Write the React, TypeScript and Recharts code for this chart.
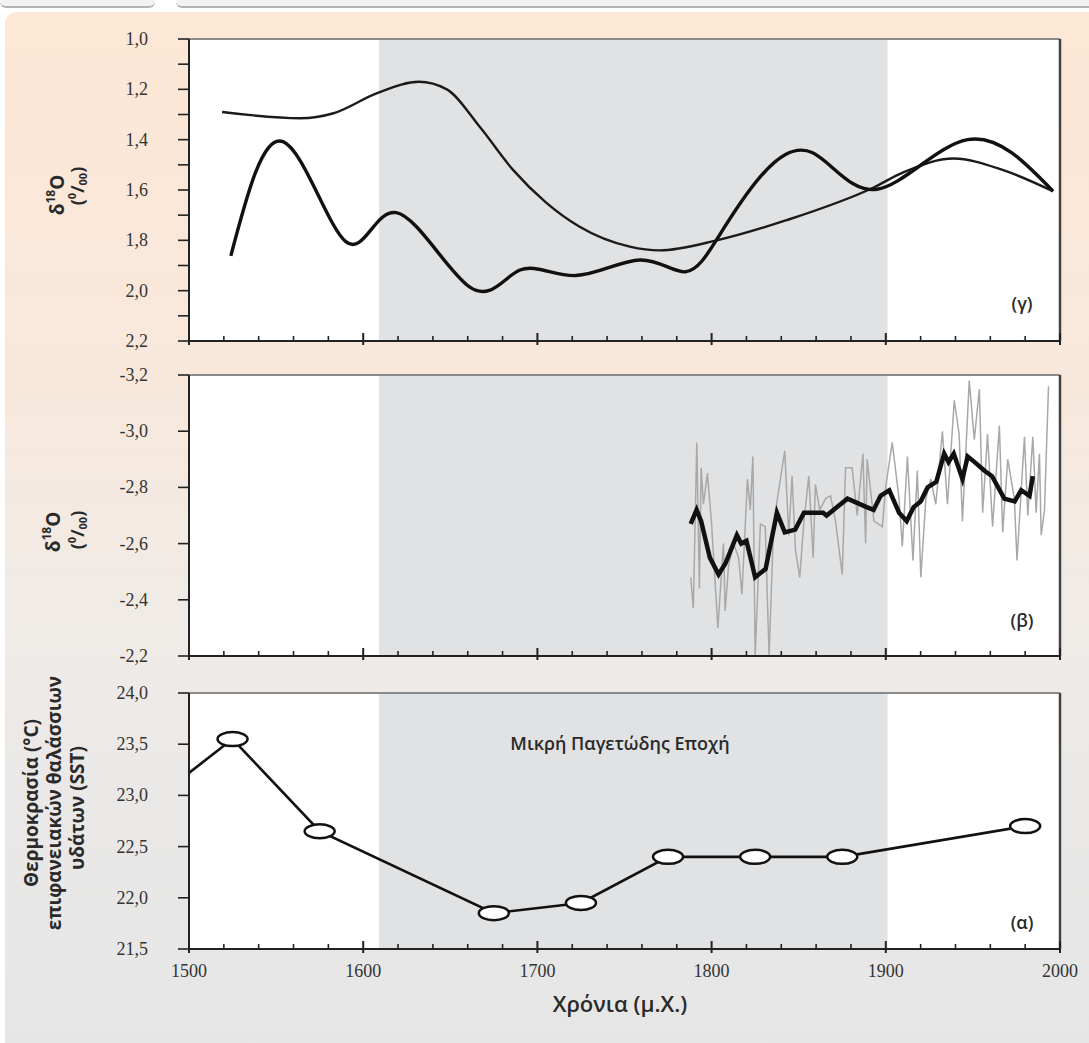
import React from 'react'
import {
  LineChart,
  Line,
  XAxis,
  YAxis,
  ReferenceArea,
  ReferenceLine,
} from 'recharts'

// x axis (years AD)
const xTicks = [
  1500, 1520, 1540, 1560, 1580, 1600, 1620, 1640, 1660, 1680, 1700, 1720, 1740, 1760, 1780,
  1800, 1820, 1840, 1860, 1880, 1900, 1920, 1940, 1960, 1980, 2000,
]
const littleIceAge = [1609, 1901]

// panel (γ): two smoothed δ18O records
const gammaTicks = [1.0, 1.1, 1.2, 1.3, 1.4, 1.5, 1.6, 1.7, 1.8, 1.9, 2.0, 2.1, 2.2]
const gammaAYears = [1519, 1564, 1583, 1608, 1632, 1648, 1667, 1686, 1705, 1724, 1753, 1770, 1803, 1843, 1893, 1910, 1939, 1967, 1996]
const gammaAValues = [1.29, 1.315, 1.295, 1.215, 1.17, 1.2, 1.35, 1.52, 1.65, 1.745, 1.825, 1.84, 1.8, 1.72, 1.59, 1.53, 1.475, 1.52, 1.605]
const gammaBYears = [1524, 1554, 1590, 1619, 1661, 1690, 1722, 1759, 1785, 1804, 1828, 1858, 1895, 1947, 1996]
const gammaBValues = [1.862, 1.408, 1.805, 1.69, 1.985, 1.918, 1.94, 1.878, 1.925, 1.785, 1.547, 1.452, 1.597, 1.4, 1.605]

// panel (β): annual δ18O (grey) and running mean (black)
const betaTicks = [-3.2, -3.0, -2.8, -2.6, -2.4, -2.2]
const betaRawYears = [
  1788, 1789.5, 1791.5, 1793, 1794, 1795.3, 1797.6, 1800, 1803.6, 1806.8, 1807.8, 1809.7, 1812.6,
  1815.5, 1817.4, 1820.6, 1822.2, 1823.7, 1825, 1828, 1830.8, 1833, 1835.6, 1839.5, 1842, 1844.3,
  1846.2, 1848.1, 1850.6, 1853, 1855.8, 1858.3, 1859.6, 1862.1, 1865.4, 1868.3, 1871.1, 1875,
  1876.9, 1880.7, 1883.6, 1886.9, 1888.4, 1889.3, 1893.2, 1898, 1899.9, 1903.7, 1907.6, 1909.5,
  1912.4, 1915.6, 1918.1, 1920.1, 1923, 1925.8, 1928.7, 1932.5, 1935.4, 1939.3, 1942.1, 1944,
  1947.9, 1950.8, 1953.7, 1955.6, 1958.4, 1961.3, 1965.2, 1967.1, 1970, 1973.8, 1975.3, 1979.6,
  1981.5, 1984.4, 1986.3, 1988.2, 1989.2, 1991.1, 1993.4,
]
const betaRawValues = [
  -2.48, -2.37, -2.96, -2.44, -2.87, -2.74, -2.85, -2.67, -2.3, -2.6, -2.36, -2.52, -2.6,
  -2.55, -2.42, -2.83, -2.72, -2.91, -2.2, -2.67, -2.66, -2.2, -2.67, -2.83, -2.93, -2.63,
  -2.84, -2.58, -2.48, -2.68, -2.84, -2.55, -2.81, -2.72, -2.76, -2.77, -2.68, -2.49,
  -2.87, -2.87, -2.7, -2.92, -2.6, -2.9, -2.68, -2.66, -2.8, -2.96, -2.76, -2.59,
  -2.91, -2.54, -2.86, -2.48, -2.76, -2.83, -2.74, -3.0, -2.74, -3.11, -2.99, -2.68,
  -3.18, -2.97, -3.15, -2.71, -2.99, -2.66, -3.02, -2.64, -2.9, -2.76, -2.54, -2.98,
  -2.7, -2.98, -2.71, -2.92, -2.63, -2.72, -3.16,
]
const betaMeanYears = [
  1788, 1791.4, 1794, 1799, 1804, 1808, 1814.5, 1817, 1820, 1825, 1831, 1837.5, 1842, 1848, 1853,
  1864, 1866, 1878, 1889, 1893, 1897, 1902, 1907.6, 1912, 1916, 1920, 1924, 1929, 1933.5, 1936,
  1939, 1944, 1947, 1951, 1956.5, 1961, 1968, 1974, 1977.7, 1982.5, 1984.4,
]
const betaMeanValues = [
  -2.67, -2.72, -2.68, -2.55, -2.49, -2.53, -2.63, -2.6, -2.61, -2.48, -2.51, -2.71, -2.64, -2.65, -2.71,
  -2.71, -2.7, -2.76, -2.73, -2.72, -2.77, -2.79, -2.71, -2.68, -2.73, -2.75, -2.8, -2.82, -2.92, -2.89,
  -2.92, -2.83, -2.91, -2.89, -2.86, -2.84, -2.76, -2.75, -2.79, -2.77, -2.84,
]

// panel (α): sea surface temperature
const alphaTicks = [21.5, 22.0, 22.5, 23.0, 23.5, 24.0]
const sstYears = [1525, 1575, 1675, 1725, 1775, 1825, 1875, 1980]
const sstValues = [23.55, 22.65, 21.85, 21.95, 22.4, 22.4, 22.4, 22.7]
const sstLeadYears = [1500, 1525]
const sstLeadValues = [23.22, 23.55]

const toRows = (xs: number[], ys: number[]) => xs.map((year, i) => ({ year, value: ys[i] }))

const comma = (v: number) => v.toFixed(1).replace('.', ',')

const W = 1089
const H = 1043
const serif = '"Liberation Serif", "DejaVu Serif", serif'
const sans = '"Open Sans", "Noto Sans", sans-serif'

function YearTick(props: any) {
  const { x, y, payload, showLabel } = props
  const major = payload.value % 100 === 0
  return (
    <g>
      <line
        x1={x}
        x2={x}
        y1={major ? y - 8 : y - 5}
        y2={major ? y + 4 : y}
        stroke="#222"
        strokeWidth={major ? 2 : 1.6}
      />
      {showLabel && major && (
        <text x={x} y={y + 22} textAnchor="middle" dominantBaseline="central" fontFamily={serif} fontSize={18} fill="#333">
          {payload.value}
        </text>
      )}
    </g>
  )
}

function ValueTick(props: any) {
  const { x, y, payload, fmt } = props
  return (
    <text x={x} y={y} textAnchor="end" dominantBaseline="central" fontFamily={serif} fontSize={18} fill="#333">
      {fmt(payload.value)}
    </text>
  )
}

function SstDot(props: any) {
  const { cx, cy } = props
  if (cx == null || cy == null) return null
  return <ellipse cx={cx} cy={cy} rx={15} ry={7} fill="#fff" stroke="#111" strokeWidth={2.5} />
}

interface PanelProps {
  top: number
  bottom: number
  domain: [number, number]
  ticks: number[]
  reversed?: boolean
  yFormatter: (v: number) => string
  showYearLabels?: boolean
  children: React.ReactNode
}

function Panel({ top, bottom, domain, ticks, reversed, yFormatter, showYearLabels, children }: PanelProps) {
  return (
    <div style={{ position: 'absolute', left: 0, top: 0 }}>
      <LineChart width={W} height={H} margin={{ top, right: 29, left: 129, bottom: H - bottom - 20 }}>
        <XAxis
          type="number"
          dataKey="year"
          domain={[1500, 2000]}
          ticks={xTicks}
          interval={0}
          height={20}
          tickSize={0}
          tickMargin={0}
          axisLine={{ stroke: '#222', strokeWidth: 2 }}
          tickLine={false}
          tick={(p: any) => <YearTick {...p} showLabel={showYearLabels} />}
          allowDataOverflow
        />
        <YAxis
          type="number"
          domain={domain}
          ticks={ticks}
          reversed={reversed}
          width={60}
          tickSize={11}
          tickMargin={30}
          allowDataOverflow
          interval={0}
          axisLine={{ stroke: '#222', strokeWidth: 2 }}
          tickLine={{ stroke: '#222', strokeWidth: 1.6 }}
          tick={(p: any) => <ValueTick {...p} fmt={yFormatter} />}
        />
        <ReferenceArea x1={1500} x2={2000} fill="#ffffff" fillOpacity={1} stroke="none" />
        <ReferenceArea x1={littleIceAge[0]} x2={littleIceAge[1]} fill="#e1e2e4" fillOpacity={1} stroke="none" />
        <ReferenceLine y={reversed ? domain[0] : domain[1]} stroke="#8a8a8a" strokeWidth={2} />
        <ReferenceLine x={2000} stroke="#444" strokeWidth={2.5} />
        {children}
      </LineChart>
    </div>
  )
}

export default function App() {
  return (
    <div style={{ position: 'absolute', left: 0, top: 0, width: W, height: H, overflow: 'hidden', background: '#fff' }}>
      {/* page chrome */}
      <div style={{ position: 'absolute', left: 0, top: -10, width: 155, height: 16, background: '#f2f2f2', borderBottom: '2px solid #b4b4b4', borderRadius: '0 0 6px 6px' }} />
      <div style={{ position: 'absolute', left: 176, top: -10, width: 920, height: 16, background: '#f2f2f2', borderBottom: '2px solid #b4b4b4', borderRadius: '0 0 0 6px' }} />
      <div
        style={{
          position: 'absolute',
          left: 5,
          top: 12,
          width: W,
          height: H,
          borderRadius: '12px 0 0 0',
          background: 'linear-gradient(180deg, #fde7d5 0%, #f8e8dc 35%, #efebe7 60%, #e9e8e7 80%, #e6e6e6 100%)',
        }}
      />

      <Panel top={39} bottom={341} domain={[1.0, 2.2]} ticks={gammaTicks} reversed yFormatter={(v) => (Math.round(v * 10) % 2 === 0 ? comma(v) : '')}>
        <Line data={toRows(gammaAYears, gammaAValues)} dataKey="value" type="monotone" stroke="#1b1b1b" strokeWidth={2.4} dot={false} isAnimationActive={false} />
        <Line data={toRows(gammaBYears, gammaBValues)} dataKey="value" type="natural" stroke="#111" strokeWidth={3.4} dot={false} isAnimationActive={false} />
      </Panel>

      <Panel top={375} bottom={656} domain={[-3.2, -2.2]} ticks={betaTicks} reversed yFormatter={comma}>
        <Line data={toRows(betaRawYears, betaRawValues)} dataKey="value" type="linear" stroke="#a8a8a8" strokeWidth={1.5} dot={false} isAnimationActive={false} />
        <Line data={toRows(betaMeanYears, betaMeanValues)} dataKey="value" type="linear" stroke="#111" strokeWidth={4.5} dot={false} isAnimationActive={false} />
      </Panel>

      <Panel top={693} bottom={949} domain={[21.5, 24.0]} ticks={alphaTicks} yFormatter={comma} showYearLabels>
        <Line data={toRows(sstLeadYears, sstLeadValues)} dataKey="value" type="linear" stroke="#111" strokeWidth={2.6} dot={false} isAnimationActive={false} />
        <Line data={toRows(sstYears, sstValues)} dataKey="value" type="linear" stroke="#111" strokeWidth={2.6} dot={<SstDot />} isAnimationActive={false} />
      </Panel>

      <svg width={W} height={H} style={{ position: 'absolute', left: 0, top: 0, pointerEvents: 'none' }}>
        {/* y titles */}
        <g fontFamily={sans} fontWeight={700} fill="#2a2a2a">
          <text transform="translate(57,195) rotate(-90)" textAnchor="middle" dominantBaseline="central" fontSize={19}>
            δ<tspan dy={-7} fontSize={12}>18</tspan><tspan dy={7}>O</tspan>
          </text>
          <text transform="translate(77,186) rotate(-90)" textAnchor="middle" dominantBaseline="central" fontSize={18}>
            (<tspan dy={-6} fontSize={11}>0</tspan><tspan dy={6}>/</tspan><tspan dy={5} fontSize={11}>00</tspan><tspan dy={-5}>)</tspan>
          </text>
          <text transform="translate(53,532) rotate(-90)" textAnchor="middle" dominantBaseline="central" fontSize={19}>
            δ<tspan dy={-7} fontSize={12}>18</tspan><tspan dy={7}>O</tspan>
          </text>
          <text transform="translate(77,530) rotate(-90)" textAnchor="middle" dominantBaseline="central" fontSize={18}>
            (<tspan dy={-6} fontSize={11}>0</tspan><tspan dy={6}>/</tspan><tspan dy={5} fontSize={11}>00</tspan><tspan dy={-5}>)</tspan>
          </text>
          <text transform="translate(31,803) rotate(-90)" textAnchor="middle" dominantBaseline="central" fontSize={19}>Θερμοκρασία (°C)</text>
          <text transform="translate(54,803) rotate(-90)" textAnchor="middle" dominantBaseline="central" fontSize={19}>επιφανειακών θαλάσσιων</text>
          <text transform="translate(77,808) rotate(-90)" textAnchor="middle" dominantBaseline="central" fontSize={19}>υδάτων (SST)</text>
        </g>
        {/* panel tags and labels */}
        <g fontFamily={sans} fontWeight={600} fill="#2a2a2a">
          <text x={1022} y={303} textAnchor="middle" dominantBaseline="central" fontSize={18}>(γ)</text>
          <text x={1022} y={620} textAnchor="middle" dominantBaseline="central" fontSize={18}>(β)</text>
          <text x={1022} y={922} textAnchor="middle" dominantBaseline="central" fontSize={18}>(α)</text>
          <text x={620} y={743} textAnchor="middle" dominantBaseline="central" fontSize={18}>Μικρή Παγετώδης Εποχή</text>
        </g>
        <text x={620} y={1003} textAnchor="middle" dominantBaseline="central" fontFamily={sans} fontWeight={600} fontSize={22} fill="#2a2a2a">
          Χρόνια (μ.Χ.)
        </text>
      </svg>
    </div>
  )
}
